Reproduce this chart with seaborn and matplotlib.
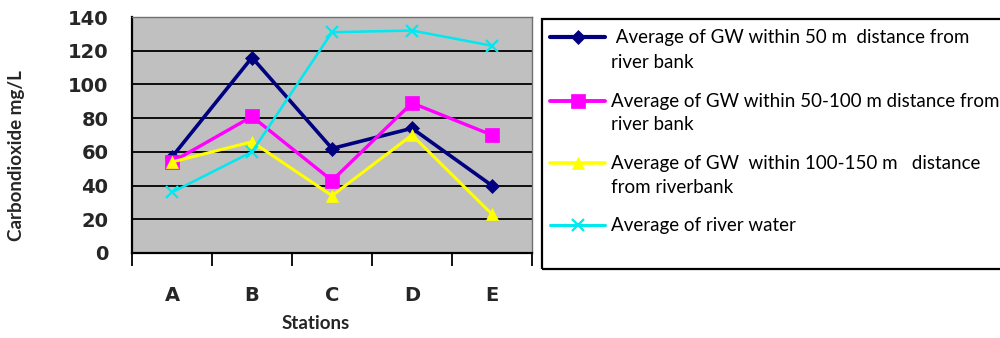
import matplotlib
matplotlib.use("Agg")
import matplotlib.pyplot as plt
from matplotlib.lines import Line2D
from matplotlib.patches import Rectangle
import seaborn as sns
import pandas as pd
from matplotlib.ticker import MultipleLocator

stations = ["A", "B", "C", "D", "E"]
gw_50 = [57, 116, 62, 74, 40]
gw_50_100 = [54, 81, 43, 89, 70]
gw_100_150 = [54, 66, 34, 70, 23]
river = [36, 60, 131, 132, 123]

labels = [
    [" Average of GW within 50 m  distance from", "river bank"],
    ["Average of GW within 50-100 m distance from", "river bank"],
    ["Average of GW  within 100-150 m   distance", "from riverbank"],
    ["Average of river water"],
]
series = [gw_50, gw_50_100, gw_100_150, river]
colors = ["#000080", "#FF00FF", "#FFFF00", "#00E8F0"]
markers = ["D", "s", "^", "x"]
msizes = [7, 10, 9, 9]
lwidths = [2.6, 2.4, 2.2, 1.8]

sns.set_theme(style="white")
plt.rcParams["font.family"] = ["DejaVu Sans"]

W, H = 1000, 338
fig = plt.figure(figsize=(10, 3.38), dpi=100)
ax = fig.add_axes([0.132, 0.2515, 0.400, 0.698])
ax.set_facecolor("#C0C0C0")

for lab, vals, c, m, ms, lw in zip(labels, series, colors, markers, msizes, lwidths):
    df = pd.DataFrame({"Station": stations, "Value": vals})
    sns.lineplot(data=df, x="Station", y="Value", ax=ax, color=c, marker=m,
                 markersize=ms, linewidth=lw, legend=False,
                 markeredgecolor=c, markeredgewidth=1.6 if m == "x" else 0.5)

ax.set_xlim(-0.5, 4.5)
ax.set_ylim(0, 140)
ax.yaxis.set_major_locator(MultipleLocator(20))
ax.grid(axis="y", color="black", linewidth=1.3)
ax.set_axisbelow(True)

ax.set_xticks(range(5))
ax.set_xticklabels(stations)
ax.set_xticks([i - 0.5 for i in range(6)], minor=True)
ax.tick_params(axis="x", which="major", length=0, pad=24, labelsize=14)
ax.tick_params(axis="x", which="minor", length=9, width=1.3, color="black", direction="out")
ax.tick_params(axis="y", which="major", length=9, width=1.3, color="black", direction="out",
               labelsize=14, pad=8)
ax.xaxis.set_tick_params(bottom=True, which="minor")
for t in ax.get_xticklabels() + ax.get_yticklabels():
    t.set_fontweight("bold")

for s in ["left", "bottom"]:
    ax.spines[s].set_color("black")
    ax.spines[s].set_linewidth(1.6)
for s in ["top", "right"]:
    ax.spines[s].set_color("#707070")
    ax.spines[s].set_linewidth(1.0)

ax.set_xlabel("Stations", fontsize=13.5, fontweight="bold", family="Lato")
ax.set_ylabel("Carbondioxide mg/L", fontsize=13.5, fontweight="bold", family="Lato")
ax.yaxis.set_label_coords(-0.267, 0.415)
ax.xaxis.set_label_coords(0.46, -0.262)

# legend box (manual, to keep the handle on the first text line as in the reference)
fig.patches.append(Rectangle((542 / W, 1 - 269 / H), (1010 - 542) / W, (269 - 19) / H,
                             transform=fig.transFigure, fill=False, edgecolor="black",
                             linewidth=1.6))
line_y = [[37, 62], [101, 125], [163, 188], [225]]
for lab, ys, c, m, ms, lw in zip(labels, line_y, colors, markers, msizes, lwidths):
    y0 = 1 - ys[0] / H
    fig.lines.append(Line2D([550 / W, 605 / W], [y0, y0], transform=fig.transFigure,
                            color=c, linewidth=lw + 0.4))
    fig.lines.append(Line2D([578 / W], [y0], transform=fig.transFigure, color=c,
                            marker=m, markersize=ms, linestyle="none",
                            markeredgecolor=c, markeredgewidth=1.6 if m == "x" else 0.5))
    for txt, yy in zip(lab, ys):
        fig.text(611 / W, 1 - yy / H, txt, ha="left", va="center", fontsize=13.5,
                 family="Lato", color="black")

fig.savefig("out.png", dpi=100, facecolor="white")
